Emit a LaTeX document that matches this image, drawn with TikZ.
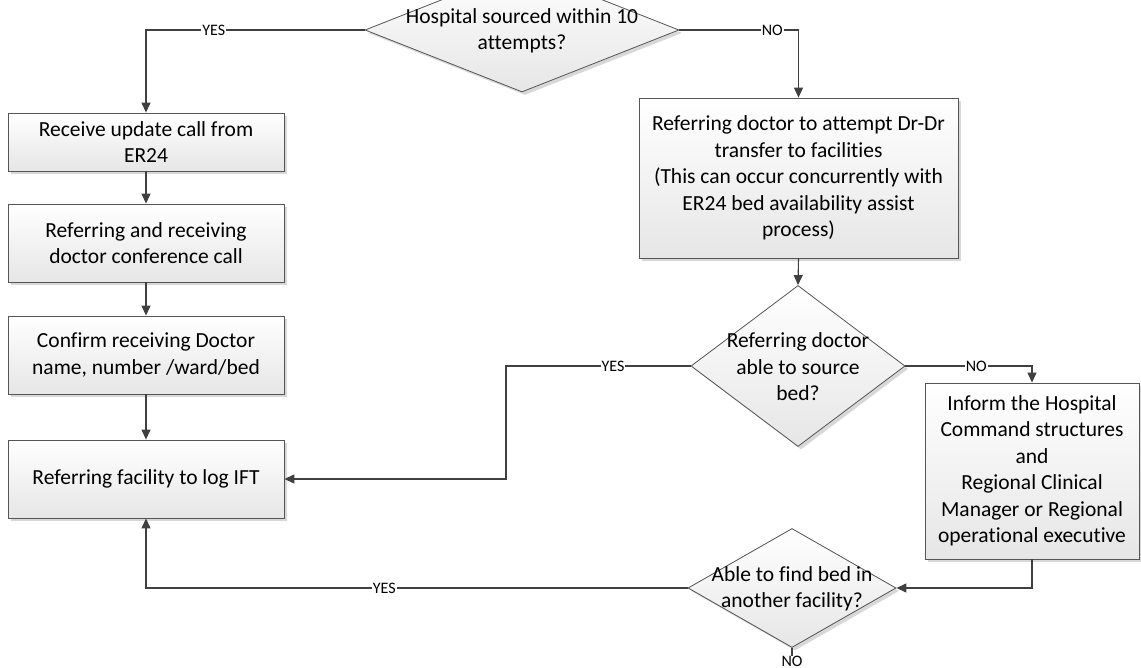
\documentclass[tikz,border=0pt]{standalone}
\usepackage{fontspec}
\setmainfont{Carlito}[Ligatures=NoCommon]
\usetikzlibrary{arrows.meta,shapes.geometric,shadows}
\definecolor{linec}{HTML}{404040}
\definecolor{edgec}{HTML}{555555}
\definecolor{boxbot}{HTML}{E6E6E6}
\tikzset{
  shad/.style={drop shadow={shadow xshift=3pt,shadow yshift=-3pt,fill=black!30,opacity=0.5}},
  procbox/.style={draw=edgec,line width=0.8pt,top color=white,bottom color=boxbot,shad,
    align=center,inner sep=0pt,font=\fontsize{21.5}{26.5}\selectfont},
  decision/.style={diamond,draw=edgec,line width=0.8pt,top color=white,bottom color=boxbot,shad,
    inner sep=0pt},
  dtext/.style={align=center,inner sep=0pt,font=\fontsize{21.5}{26.5}\selectfont},
  conn/.style={draw=linec,line width=1.1pt,-{Triangle[length=10pt,width=9pt]}},
  plain/.style={draw=linec,line width=1.1pt},
  lbl/.style={fill=white,inner sep=1pt,font=\fontsize{16}{16}\selectfont,text=black}
}
\begin{document}
\begin{tikzpicture}[x=1pt,y=-1pt]
\useasboundingbox (0,0) rectangle (1141,668);
\clip (0,0) rectangle (1141,668);
\fill[white] (0,0) rectangle (1141,668);

% decisions
\node[decision,minimum width=314pt,minimum height=124pt] (d1) at (522,30) {};
\node[dtext] (d1t) at (522,31) {Hospital sourced within 10\\attempts?};
\node[decision,minimum width=214pt,minimum height=161pt] (d2) at (798,366) {};
\node[dtext] (d2t) at (798,367) {Referring doctor\\able to source\\bed?};
\node[decision,minimum width=208pt,minimum height=119pt] (d3) at (792,588) {};
\node[dtext] (d3t) at (792,589) {Able to find bed in\\another facility?};

% process boxes
\node[procbox,minimum width=276pt,minimum height=58pt] (b1) at (146,142) {Receive update call from\\ER24};
\node[procbox,minimum width=276pt,minimum height=78pt] (b2) at (146,243) {Referring and receiving\\doctor conference call};
\node[procbox,minimum width=276pt,minimum height=78pt] (b3) at (146,355) {Confirm receiving Doctor\\name, number /ward/bed};
\node[procbox,minimum width=276pt,minimum height=78pt] (b4) at (146,479) {Referring facility to log IFT};
\node[procbox,minimum width=319pt,minimum height=160pt] (r1) at (798.5,178) {Referring doctor to attempt Dr-Dr\\transfer to facilities\\(This can occur concurrently with\\ER24 bed availability assist\\process)};
\node[procbox,minimum width=214pt,minimum height=176pt] (r2) at (1032,471) {Inform the Hospital\\Command structures\\and\\Regional Clinical\\Manager or Regional\\operational executive};

\node[lbl,inner sep=0pt] (no3) at (792,661) {NO};
\coordinate (c1) at (506,366);

% connectors
\draw[conn] (d1.west) -| node[lbl,pos=0.345]{YES} (b1.north);
\draw[conn] (d1.east) -| node[lbl,pos=0.39]{NO} (r1.north);
\draw[conn] (b1.south) -- (b2.north);
\draw[conn] (b2.south) -- (b3.north);
\draw[conn] (b3.south) -- (b4.north);
\draw[conn] (r1.south) -- (d2.north);
\draw[conn] (d2.west) -- node[lbl,pos=0.42]{YES} (c1) |- (b4.east);
\draw[conn] (d2.east) -| node[lbl,pos=0.28]{NO} (r2.north);
\draw[conn] (r2.south) |- (d3.east);
\draw[conn] (d3.west) -| node[lbl,pos=0.28]{YES} (b4.south);
\draw[plain] (d3.south) -- (no3.north);
\end{tikzpicture}
\end{document}
